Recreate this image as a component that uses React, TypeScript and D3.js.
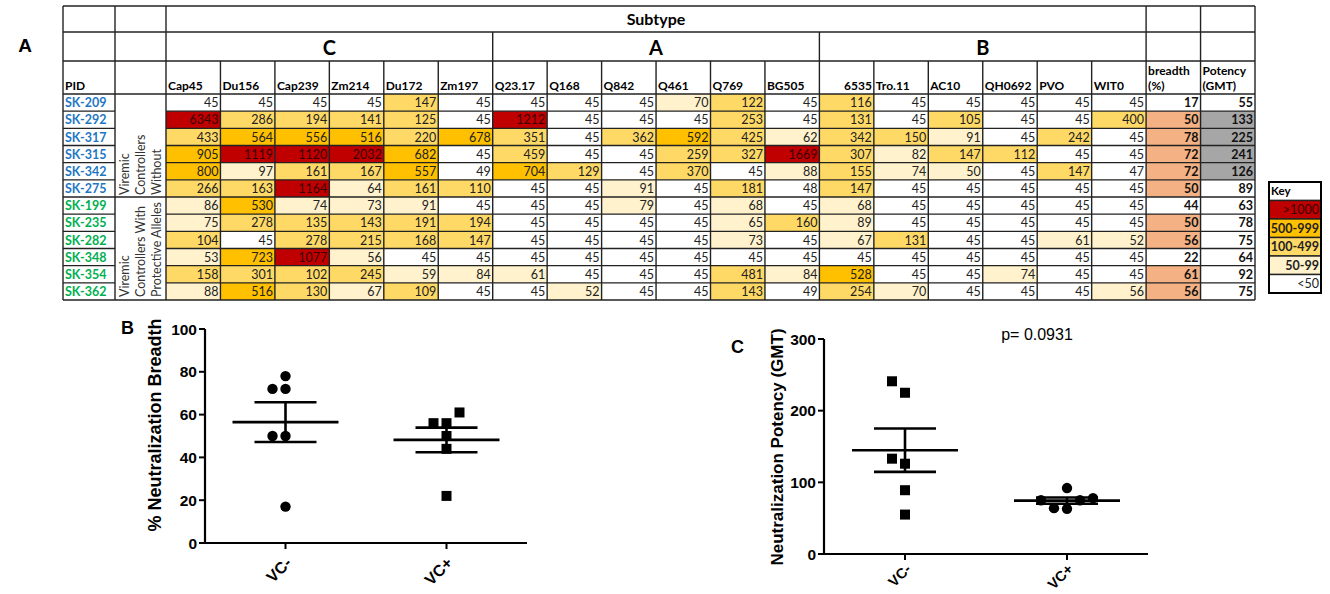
import React from "react";
import * as d3 from "d3";

// ---- data ----
const pids = ["SK-209", "SK-292", "SK-317", "SK-315", "SK-342", "SK-275", "SK-199", "SK-235", "SK-282", "SK-348", "SK-354", "SK-362"];
const groupLines = [
  ["Viremic", "Controllers", "Without"],
  ["Viremic", "Controllers With", "Protective Alleles"],
];
const subtypeNames = ["C", "A", "B"];
const virusesC = ["Cap45", "Du156", "Cap239", "Zm214", "Du172", "Zm197"];
const virusesA = ["Q23.17", "Q168", "Q842", "Q461", "Q769", "BG505"];
const virusesB = ["6535", "Tro.11", "AC10", "QH0692", "PVO", "WIT0"];

// titers per PID, columns in the order C, A, B
const titers = [
  [45, 45, 45, 45, 147, 45, 45, 45, 45, 70, 122, 45, 116, 45, 45, 45, 45, 45],
  [6343, 286, 194, 141, 125, 45, 1212, 45, 45, 45, 253, 45, 131, 45, 105, 45, 45, 400],
  [433, 564, 556, 516, 220, 678, 351, 45, 362, 592, 425, 62, 342, 150, 91, 45, 242, 45],
  [905, 1119, 1120, 2032, 682, 45, 459, 45, 45, 259, 327, 1669, 307, 82, 147, 112, 45, 45],
  [800, 97, 161, 167, 557, 49, 704, 129, 45, 370, 45, 88, 155, 74, 50, 45, 147, 47],
  [266, 163, 1164, 64, 161, 110, 45, 45, 91, 45, 181, 48, 147, 45, 45, 45, 45, 45],
  [86, 530, 74, 73, 91, 45, 45, 45, 79, 45, 68, 45, 68, 45, 45, 45, 45, 45],
  [75, 278, 135, 143, 191, 194, 45, 45, 45, 45, 65, 160, 89, 45, 45, 45, 45, 45],
  [104, 45, 278, 215, 168, 147, 45, 45, 45, 45, 73, 45, 67, 131, 45, 45, 61, 52],
  [53, 723, 1077, 56, 45, 45, 45, 45, 45, 45, 45, 45, 45, 45, 45, 45, 45, 45],
  [158, 301, 102, 245, 59, 84, 61, 45, 45, 45, 481, 84, 528, 45, 45, 74, 45, 45],
  [88, 516, 130, 67, 109, 45, 45, 52, 45, 45, 143, 49, 254, 70, 45, 45, 45, 56],
];
const breadth = [17, 50, 78, 72, 72, 50, 44, 50, 56, 22, 61, 56];
const potency = [55, 133, 225, 241, 126, 89, 63, 78, 75, 64, 92, 75];

const keyLabels = [">1000", "500-999", "100-499", "50-99", "<50"];
const keyColors = ["#C00000", "#FFC000", "#FFD966", "#FFF2CC", "#ffffff"];
const groups = ["VC-", "VC+"];
const breadthTicks = [0, 20, 40, 60, 80, 100];
const potencyTicks = [0, 100, 200, 300];
const pText = "p= 0.0931";

const titerColor = d3
  .scaleThreshold<number, string>()
  .domain([50, 100, 500, 1000])
  .range(["#ffffff", "#FFF2CC", "#FFD966", "#FFC000", "#C00000"]);

const TF = "Lato, 'Open Sans', sans-serif";
const AF = "'Liberation Sans', Arial, sans-serif";
const LINE = "#222";

function Table() {
  const cols = [...virusesC, ...virusesA, ...virusesB, "breadth", "potency"];
  const x = d3.scaleBand<number>().domain(d3.range(cols.length)).range([166, 1255]);
  const y = d3.scaleBand<string>().domain(pids).range([94, 300]);
  const left = 63, c1 = 115, c2 = 166, top = 6, r1 = 32, r2 = 61, r3 = 94, bottom = 300;
  const nv = 18;
  const spans = subtypeNames.map((s, i) => ({ s, x0: x(i * 6)!, x1: x(i * 6 + 5)! + x.bandwidth() }));
  const vEnd = x(nv)!;
  const bw = x.bandwidth();

  const hLines: [number, number, number][] = [];
  [top, r1, r2, r3, bottom].forEach((yy) => hLines.push([left, 1255, yy]));
  pids.forEach((p, i) => {
    if (i === 0) return;
    const yy = y(p)!;
    if (i === 6) hLines.push([left, 1255, yy]);
    else {
      hLines.push([left, c1, yy]);
      hLines.push([c2, 1255, yy]);
    }
  });
  const vLines: [number, number, number][] = [];
  [left, c1, c2, vEnd, vEnd + bw, 1255].forEach((xx) => vLines.push([xx, top, bottom]));
  spans.slice(1).forEach((sp) => vLines.push([sp.x0, r1, bottom]));
  d3.range(nv).forEach((i) => {
    if (i % 6 !== 0) vLines.push([x(i)!, r2, bottom]);
  });

  return (
    <g>
      <text x={25} y={52} textAnchor="middle" fontFamily={AF} fontWeight="bold" fontSize={19}>A</text>
      {pids.map((p, ri) => (
        <g key={p}>
          {titers[ri].map((v, ci) => (
            <rect key={ci} x={x(ci)} y={y(p)} width={bw} height={y.bandwidth()} fill={titerColor(v)} />
          ))}
          <rect x={x(nv)} y={y(p)} width={bw} height={y.bandwidth()} fill={breadth[ri] >= 50 ? "#F4B183" : "#fff"} />
          <rect x={x(nv + 1)} y={y(p)} width={bw} height={y.bandwidth()} fill={potency[ri] > 100 ? "#A6A6A6" : "#fff"} />
        </g>
      ))}
      {hLines.map(([a, b, yy], i) => (
        <line key={"h" + i} x1={a} x2={b} y1={yy} y2={yy} stroke={LINE} strokeWidth={1.4} />
      ))}
      {vLines.map(([xx, a, b], i) => (
        <line key={"v" + i} x1={xx} x2={xx} y1={a} y2={b} stroke={LINE} strokeWidth={1.4} />
      ))}
      <text x={(c2 + vEnd) / 2} y={25} textAnchor="middle" fontFamily={TF} fontWeight="bold" fontSize={16}>Subtype</text>
      {spans.map((sp) => (
        <text key={sp.s} x={(sp.x0 + sp.x1) / 2} y={55} textAnchor="middle" fontFamily={TF} fontWeight="bold" fontSize={20}>{sp.s}</text>
      ))}
      <text x={left + 2} y={90} fontFamily={TF} fontWeight="bold" fontSize={12}>PID</text>
      {cols.slice(0, nv).map((c, i) =>
        /^\d+$/.test(c) ? (
          <text key={c} x={x(i)! + bw - 2} y={90} textAnchor="end" fontFamily={TF} fontWeight="bold" fontSize={12}>{c}</text>
        ) : (
          <text key={c} x={x(i)! + 2} y={90} fontFamily={TF} fontWeight="bold" fontSize={12}>{c}</text>
        )
      )}
      <text x={x(nv)! + 2} y={75} fontFamily={TF} fontWeight="bold" fontSize={12}>breadth</text>
      <text x={x(nv)! + 2} y={90} fontFamily={TF} fontWeight="bold" fontSize={12}>(%)</text>
      <text x={x(nv + 1)! + 2} y={75} fontFamily={TF} fontWeight="bold" fontSize={12}>Potency</text>
      <text x={x(nv + 1)! + 2} y={90} fontFamily={TF} fontWeight="bold" fontSize={12}>(GMT)</text>
      {groupLines.map((lines, gi) => {
        const by = gi === 0 ? y(pids[5])! + y.bandwidth() - 2 : bottom - 3;
        return lines.map((t, j) => {
          const bx = 129 + j * 16;
          return (
            <text key={gi + "-" + j} x={bx} y={by} transform={`rotate(-90,${bx},${by})`} fontFamily={TF} fontSize={12.5} fill="#333">{t}</text>
          );
        });
      })}
      {pids.map((p, ri) => {
        const ty = y(p)! + 13.2;
        return (
          <g key={"t" + p}>
            <text x={left + 2} y={ty} fontFamily={TF} fontWeight="bold" fontSize={12.5} fill={ri < 6 ? "#1F77C4" : "#00B050"}>{p}</text>
            {titers[ri].map((v, ci) => (
              <text key={ci} x={x(ci)! + bw - 2} y={ty} textAnchor="end" fontFamily={TF} fontSize={12.5} fill={v >= 1000 ? "#3a0000" : "#222"}>{v}</text>
            ))}
            <text x={x(nv)! + bw - 2} y={ty} textAnchor="end" fontFamily={TF} fontWeight="bold" fontSize={12.5} fill="#111">{breadth[ri]}</text>
            <text x={x(nv + 1)! + bw - 2} y={ty} textAnchor="end" fontFamily={TF} fontWeight="bold" fontSize={12.5} fill="#111">{potency[ri]}</text>
          </g>
        );
      })}
    </g>
  );
}

function Key() {
  const rows = ["Key", ...keyLabels];
  const ky = d3.scaleBand<string>().domain(rows).range([182, 293]);
  const x0 = 1269, x1 = 1321;
  return (
    <g>
      {rows.map((r, i) => (
        <g key={r}>
          <rect x={x0} y={ky(r)} width={x1 - x0} height={ky.bandwidth()} fill={i === 0 ? "#fff" : keyColors[i - 1]} stroke={LINE} strokeWidth={1.4} />
          {i === 0 ? (
            <text x={x0 + 2} y={ky(r)! + 13} fontFamily={TF} fontWeight="bold" fontSize={11.5}>{r}</text>
          ) : (
            <text x={x1 - 2} y={ky(r)! + 13.5} textAnchor="end" fontFamily={TF} fontWeight={i === 1 || i === 5 ? "normal" : "bold"} fontSize={12.5} fill={i === 1 ? "#3a0000" : "#222"}>{r}</text>
          )}
        </g>
      ))}
      <rect x={x0} y={182} width={x1 - x0} height={111} fill="none" stroke="#000" strokeWidth={2} />
    </g>
  );
}

function dodge(values: number[], y: (v: number) => number, step: number, diam: number) {
  const order = d3.range(values.length).sort((a, b) => values[a] - values[b]);
  const placed: { x: number; y: number }[] = [];
  const offs = values.map(() => 0);
  for (const i of order) {
    const py = y(values[i]);
    for (const k of [0, -1, 1, -2, 2, -3, 3]) {
      const px = k * step;
      if (placed.every((p) => Math.hypot(p.x - px, p.y - py) >= diam)) {
        offs[i] = px;
        placed.push({ x: px, y: py });
        break;
      }
    }
  }
  return offs;
}

type PanelProps = {
  letter: string;
  letterPos: [number, number];
  x0: number;
  x1: number;
  y0: number;
  y1: number;
  domainMax: number;
  ticks: number[];
  label: string;
  labelPos: [number, number];
  labelSize: number;
  series: number[][];
  shapes: ("circle" | "square")[];
  catSize: number;
  catDrop: number;
  note?: string;
};

function Panel(p: PanelProps) {
  const x = d3.scalePoint<string>().domain(groups).range([p.x0, p.x1]).padding(0.5);
  const y = d3.scaleLinear().domain([0, p.domainMax]).range([p.y0, p.y1]);
  return (
    <g fontFamily={AF}>
      <text x={p.letterPos[0]} y={p.letterPos[1]} fontWeight="bold" fontSize={18}>{p.letter}</text>
      <text transform={`translate(${p.labelPos[0]},${p.labelPos[1]}) rotate(-90)`} textAnchor="middle" fontWeight="bold" fontSize={p.labelSize}>{p.label}</text>
      {p.note && (
        <text x={1037} y={340} textAnchor="middle" fontSize={16}>{p.note}</text>
      )}
      {p.series.map((vals, gi) => {
        const cx = x(groups[gi])!;
        const offs = dodge(vals, y, 13, 12);
        return vals.map((v, i) =>
          p.shapes[gi] === "circle" ? (
            <circle key={gi + "-" + i} cx={cx + offs[i]} cy={y(v)} r={5.2} fill="#000" />
          ) : (
            <rect key={gi + "-" + i} x={cx + offs[i] - 5} y={y(v) - 5} width={10} height={10} fill="#000" />
          )
        );
      })}
      {p.series.map((vals, gi) => {
        const cx = x(groups[gi])!;
        const m = d3.mean(vals)!;
        const sem = d3.deviation(vals)! / Math.sqrt(vals.length);
        return (
          <g key={"m" + gi} stroke="#000" strokeWidth={2.6}>
            <line x1={cx - 53} x2={cx + 53} y1={y(m)} y2={y(m)} />
            <line x1={cx} x2={cx} y1={y(m + sem)} y2={y(m - sem)} />
            <line x1={cx - 31} x2={cx + 31} y1={y(m + sem)} y2={y(m + sem)} />
            <line x1={cx - 31} x2={cx + 31} y1={y(m - sem)} y2={y(m - sem)} />
          </g>
        );
      })}
      <line x1={p.x0} x2={p.x0} y1={p.y0 + 1} y2={p.y1} stroke="#000" strokeWidth={2.2} />
      <line x1={p.x0 - 1} x2={p.x1} y1={p.y0} y2={p.y0} stroke="#000" strokeWidth={2.2} />
      {p.ticks.map((t) => (
        <g key={t}>
          <line x1={p.x0 - 6} x2={p.x0} y1={y(t)} y2={y(t)} stroke="#000" strokeWidth={2} />
          <text x={p.x0 - 8} y={y(t) + 5.5} textAnchor="end" fontWeight="bold" fontSize={15.5}>{t}</text>
        </g>
      ))}
      {groups.map((g) => {
        const gx = x(g)!;
        const ax = gx + 7, ay = p.y0 + p.catDrop;
        return (
          <g key={g}>
            <line x1={gx} x2={gx} y1={p.y0} y2={p.y0 + 6} stroke="#000" strokeWidth={2} />
            <text x={ax} y={ay} transform={`rotate(-45,${ax},${ay})`} textAnchor="end" fontWeight="bold" fontSize={p.catSize}>{g}</text>
          </g>
        );
      })}
    </g>
  );
}

export default function App() {
  const vcMinus = d3.range(6);
  const vcPlus = d3.range(6, 12);
  return (
    <div style={{ position: "absolute", left: 0, top: 0 }}>
      <svg width={1330} height={594} style={{ display: "block", background: "#fff" }}>
        <Table />
        <Key />
        <Panel
          letter="B"
          letterPos={[121, 334]}
          x0={205}
          x1={527}
          y0={543}
          y1={329}
          domainMax={100}
          ticks={breadthTicks}
          label="% Neutralization Breadth"
          labelPos={[161, 425]}
          labelSize={18}
          series={[vcMinus.map((i) => breadth[i]), vcPlus.map((i) => breadth[i])]}
          shapes={["circle", "square"]}
          catSize={16}
          catDrop={21}
        />
        <Panel
          letter="C"
          letterPos={[731, 353]}
          x0={824}
          x1={1148}
          y0={554}
          y1={339}
          domainMax={300}
          ticks={potencyTicks}
          label="Neutralization Potency (GMT)"
          labelPos={[783, 447]}
          labelSize={17}
          series={[vcMinus.map((i) => potency[i]), vcPlus.map((i) => potency[i])]}
          shapes={["square", "circle"]}
          catSize={14.5}
          catDrop={16}
          note={pText}
        />
      </svg>
    </div>
  );
}
